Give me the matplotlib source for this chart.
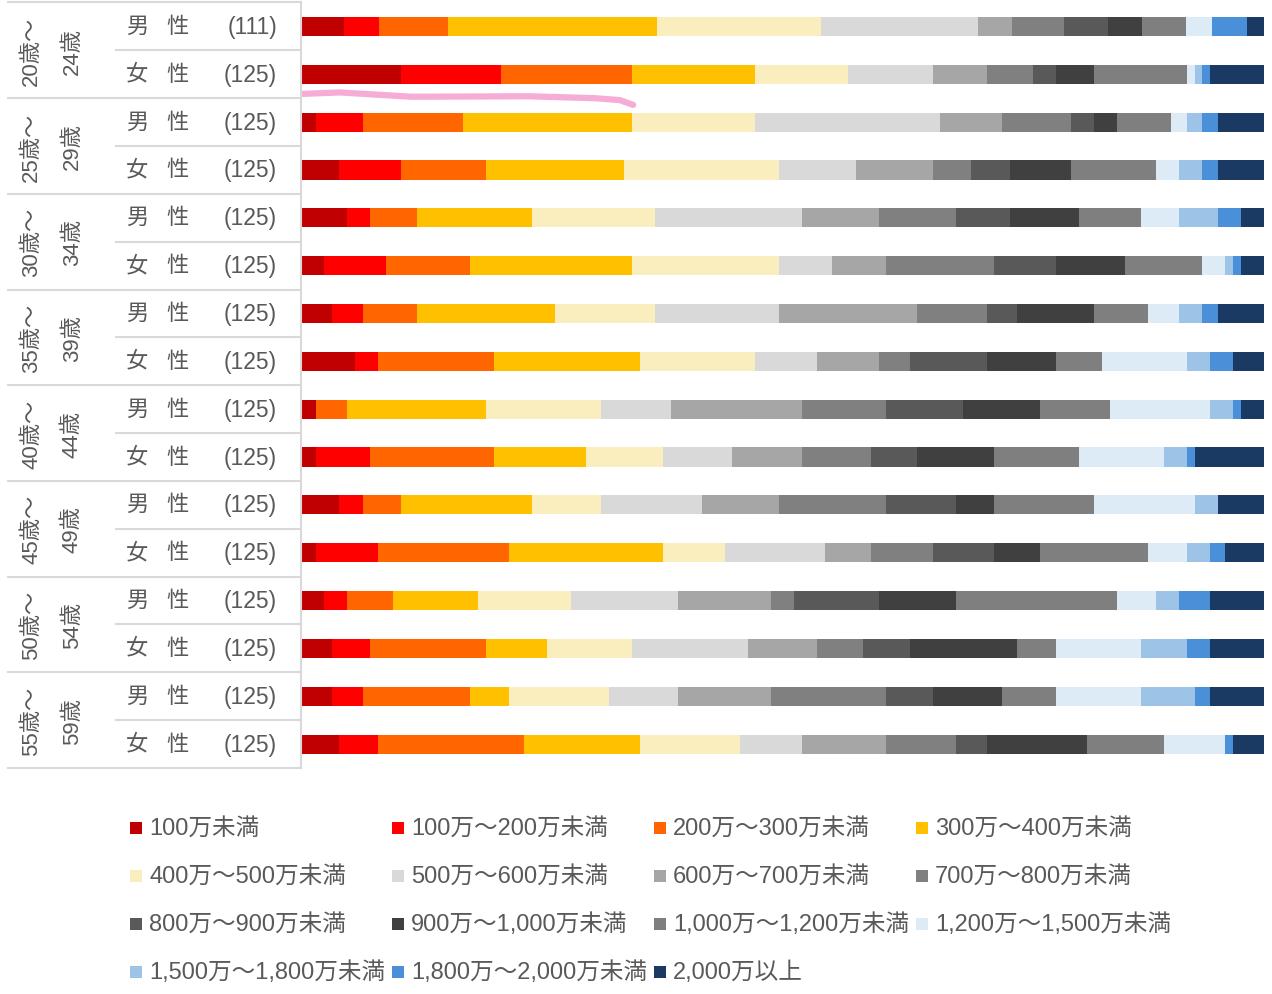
import numpy as np
import matplotlib.pyplot as plt
from matplotlib.patches import Rectangle

plt.rcParams['font.family'] = ['Liberation Sans', 'Noto Sans CJK JP']

# income bands (legend order) and their colours
bands = ['100万未満', '100万～200万未満', '200万～300万未満', '300万～400万未満',
         '400万～500万未満', '500万～600万未満', '600万～700万未満', '700万～800万未満',
         '800万～900万未満', '900万～1,000万未満', '1,000万～1,200万未満', '1,200万～1,500万未満',
         '1,500万～1,800万未満', '1,800万～2,000万未満', '2,000万以上']
colors = ['#C00000', '#FF0000', '#FF6600', '#FFC000', '#FAEDBE', '#D9D9D9', '#A6A6A6',
          '#808080', '#595959', '#404040', '#7F7F7F', '#DDEBF7', '#9DC3E6', '#4A90D9', '#1A3A63']

ages = [('20歳～', '24歳'), ('25歳～', '29歳'), ('30歳～', '34歳'), ('35歳～', '39歳'),
        ('40歳～', '44歳'), ('45歳～', '49歳'), ('50歳～', '54歳'), ('55歳～', '59歳')]
genders = [('男', '性'), ('女', '性')]
sizes = [111, 125, 125, 125, 125, 125, 125, 125, 125, 125, 125, 125, 125, 125, 125, 125]

# respondents per band
m20 = [5, 4, 8, 24, 19, 18, 4, 6, 5, 4, 5, 3, 0, 4, 2]
f20 = [13, 13, 17, 16, 12, 11, 7, 6, 3, 5, 12, 1, 1, 1, 7]
m25 = [2, 6, 13, 22, 16, 24, 8, 9, 3, 3, 7, 2, 2, 2, 6]
f25 = [5, 8, 11, 18, 20, 10, 10, 5, 5, 8, 11, 3, 3, 2, 6]
m30 = [6, 3, 6, 15, 16, 19, 10, 10, 7, 9, 8, 5, 5, 3, 3]
f30 = [3, 8, 11, 21, 19, 7, 7, 14, 8, 9, 10, 3, 1, 1, 3]
m35 = [4, 4, 7, 18, 13, 16, 18, 9, 4, 10, 7, 4, 3, 2, 6]
f35 = [7, 3, 15, 19, 15, 8, 8, 4, 10, 9, 6, 11, 3, 3, 4]
m40 = [2, 0, 4, 18, 15, 9, 17, 11, 10, 10, 9, 13, 3, 1, 3]
f40 = [2, 7, 16, 12, 10, 9, 9, 9, 6, 10, 11, 11, 3, 1, 9]
m45 = [5, 3, 5, 17, 9, 13, 10, 14, 9, 5, 13, 13, 3, 0, 6]
f45 = [2, 8, 17, 20, 8, 13, 6, 8, 8, 6, 14, 5, 3, 2, 5]
m50 = [3, 3, 6, 11, 12, 14, 12, 3, 11, 10, 21, 5, 3, 4, 7]
f50 = [4, 5, 15, 8, 11, 15, 9, 6, 6, 14, 5, 11, 6, 3, 7]
m55 = [4, 4, 14, 5, 13, 9, 12, 15, 6, 9, 7, 11, 7, 2, 7]
f55 = [5, 5, 19, 15, 13, 8, 11, 9, 4, 13, 10, 8, 0, 1, 4]

# pink hand-drawn underline (percent, row units)
pen_x = [0.2, 4.0, 11.5, 23.6, 30.5, 33.1, 34.5]
pen_y = [1.41, 1.38, 1.47, 1.46, 1.50, 1.54, 1.64]

rows = [m20, f20, m25, f25, m30, f30, m35, f35, m40, f40, m45, f45, m50, f50, m55, f55]
share = np.array(rows, dtype=float) / np.array(sizes)[:, None] * 100

txt = '#595959'
grid = '#D9D9D9'

fig = plt.figure(figsize=(12.72, 9.95), dpi=100)
ax = fig.add_axes([0.2366, 0.2271, 0.757, 0.7694])

y = np.arange(len(rows))
left = np.zeros(len(rows))
for j in range(len(bands)):
    ax.barh(y, share[:, j], left=left, height=0.4, color=colors[j], linewidth=0)
    left += share[:, j]

ax.plot(pen_x, pen_y, color='#F5A8D4', lw=4.5, solid_capstyle='round', alpha=0.95)

ax.set_xlim(0, 100)
ax.set_ylim(len(rows) - 0.5, -0.5)
ax.set_xticks([])
ax.set_yticks([])
for s in ['top', 'right', 'bottom']:
    ax.spines[s].set_visible(False)
ax.spines['left'].set_color(grid)
ax.spines['left'].set_linewidth(1.5)

tr = ax.get_yaxis_transform()
# table lines
for k in range(len(ages) + 1):
    ax.plot([-0.304, 0], [2 * k - 0.5] * 2, color=grid, lw=1.5, transform=tr, clip_on=False)
for k in range(len(ages)):
    ax.plot([-0.192, 0], [2 * k + 0.5] * 2, color=grid, lw=1.5, transform=tr, clip_on=False)

# table labels
for k, (a1, a2) in enumerate(ages):
    yc = 2 * k + 0.5
    ax.text(-0.2795, yc, a1, rotation=90, ha='center', va='center', fontsize=16,
            color=txt, transform=tr)
    ax.text(-0.2375, yc, a2, rotation=90, ha='center', va='center', fontsize=16,
            color=txt, transform=tr)
for i in range(len(rows)):
    g1, g2 = genders[i % 2]
    ax.text(-0.1698, i, g1, ha='center', va='center', fontsize=16, color=txt, transform=tr)
    ax.text(-0.1282, i, g2, ha='center', va='center', fontsize=16, color=txt, transform=tr)
    ax.text(-0.025, i, f'({sizes[i]})', ha='right', va='center', fontsize=16.5,
            color=txt, transform=tr)

# legend, laid out row by row in four even columns
lax = fig.add_axes([0, 0, 1, 1])
lax.set_xlim(0, 1272)
lax.set_ylim(995, 0)
lax.axis('off')
for i, (lab, c) in enumerate(zip(bands, colors)):
    cx = 130 + (i % 4) * 262
    cy = 829 + (i // 4) * 48
    lax.add_patch(Rectangle((cx, cy - 6), 12, 12, color=c, lw=0))
    lax.text(cx + 19, cy, lab, ha='left', va='center', fontsize=17, color=txt)

fig.savefig('out.png', dpi=100)
